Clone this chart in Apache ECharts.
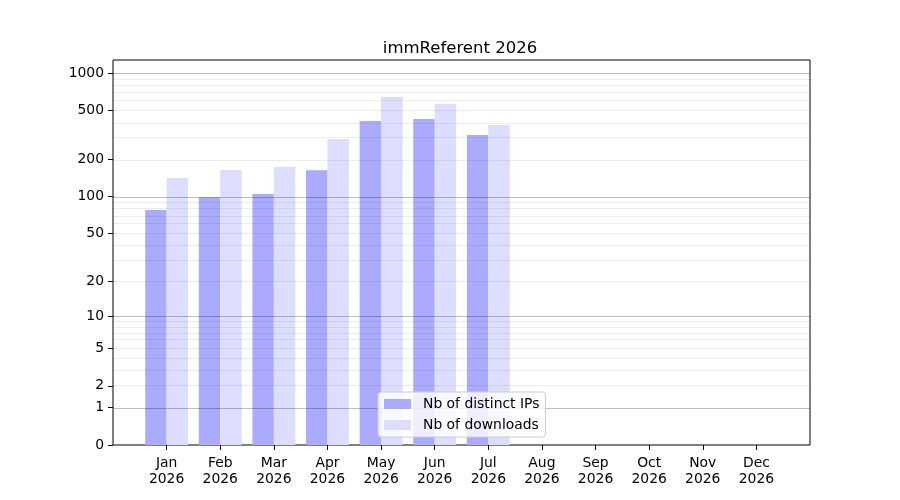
<!DOCTYPE html>
<html lang="en">
<head>
    <meta charset="UTF-8">
    <title>immReferent 2026</title>
    <script src="https://cdn.jsdelivr.net/npm/echarts@6/dist/echarts.min.js"></script>
    <style>
        body { margin: 0; background: #fff; }
        #chart { width: 900px; height: 500px; }
    </style>
</head>
<body>
    <div id="chart"></div>

    <script>
        // data
        var months = ['Jan', 'Feb', 'Mar', 'Apr', 'May', 'Jun', 'Jul', 'Aug', 'Sep', 'Oct', 'Nov', 'Dec'];
        var year = '2026';
        var distinctIPs = [78, 99, 105, 164, 411, 427, 317];
        var downloads = [142, 165, 174, 294, 643, 564, 382];
        var yTicks = [0, 1, 2, 5, 10, 20, 50, 100, 200, 500, 1000];
        var majorGrid = [1, 10, 100, 1000];
        var minorGrid = [2, 3, 4, 5, 6, 7, 8, 9, 20, 30, 40, 50, 60, 70, 80, 90, 200, 300, 400, 500, 600, 700, 800, 900];
        var yTop = 1280;

        // y scale is log10(1 + x)
        function f(v) { return Math.log10(1 + v); }

        // pad one empty slot each side so the frame has matplotlib-like margins
        var categories = [''].concat(months.map(function (m) { return m + '\n' + year; }), ['']);

        function toSlots(values) {
            return categories.map(function (c, i) {
                return (i >= 1 && i - 1 < values.length) ? f(values[i - 1]) : null;
            });
        }

        var gridLines = majorGrid.map(function (v) {
            return { yAxis: f(v), lineStyle: { color: 'rgba(0,0,0,0.25)', width: 1, type: 'solid' } };
        }).concat(minorGrid.map(function (v) {
            return { yAxis: f(v), lineStyle: { color: 'rgba(0,0,0,0.07)', width: 1, type: 'solid' } };
        }));

        var chart = echarts.init(document.getElementById('chart'));
        var font = 'DejaVu Sans';

        chart.setOption({
            animation: false,
            textStyle: { fontFamily: font },
            title: {
                text: 'immReferent 2026',
                left: 455,
                top: 35,
                textAlign: 'center',
                textStyle: { fontFamily: font, fontSize: 16.5, fontWeight: 'normal', color: '#000' }
            },
            grid: {
                left: 113, right: 90, top: 60, bottom: 55,
                show: true, borderColor: '#000', borderWidth: 1, backgroundColor: 'transparent'
            },
            legend: {
                orient: 'vertical',
                left: 378,
                top: 392,
                z: 10,
                padding: [5, 6, 5, 6],
                itemGap: 7,
                itemWidth: 27,
                itemHeight: 10,
                icon: 'rect',
                backgroundColor: 'rgba(255,255,255,0.8)',
                borderColor: '#cccccc',
                borderWidth: 1,
                borderRadius: 3,
                textStyle: { fontFamily: font, fontSize: 13.9, color: '#000', padding: [0, 0, 0, 7] }
            },
            xAxis: {
                type: 'category',
                data: categories,
                boundaryGap: false,
                axisLine: { show: false },
                axisTick: {
                    length: 5,
                    lineStyle: { color: '#000' },
                    interval: function (idx, val) { return val !== ''; }
                },
                axisLabel: {
                    interval: 0,
                    color: '#000',
                    fontFamily: font,
                    fontSize: 13.9,
                    lineHeight: 16,
                    margin: 10
                },
                splitLine: { show: false }
            },
            yAxis: {
                type: 'value',
                min: 0,
                max: f(yTop),
                axisLine: { show: false },
                axisTick: {
                    show: true,
                    length: 5,
                    lineStyle: { color: '#000' },
                    customValues: yTicks.map(f)
                },
                axisLabel: {
                    color: '#000',
                    fontFamily: font,
                    fontSize: 13.9,
                    margin: 9,
                    customValues: yTicks.map(f),
                    formatter: function (v) { return String(Math.round(Math.pow(10, v) - 1)); }
                },
                splitLine: { show: false }
            },
            series: [
                {
                    name: 'Nb of distinct IPs',
                    type: 'bar',
                    data: toSlots(distinctIPs),
                    barWidth: '40%',
                    barGap: '0%',
                    itemStyle: { color: '#aaaaff' }
                },
                {
                    name: 'Nb of downloads',
                    type: 'bar',
                    data: toSlots(downloads),
                    barWidth: '40%',
                    barGap: '0%',
                    itemStyle: { color: '#ddddff' },
                    markLine: {
                        silent: true,
                        symbol: 'none',
                        label: { show: false },
                        data: gridLines
                    }
                }
            ]
        });
    </script>
</body>
</html>
